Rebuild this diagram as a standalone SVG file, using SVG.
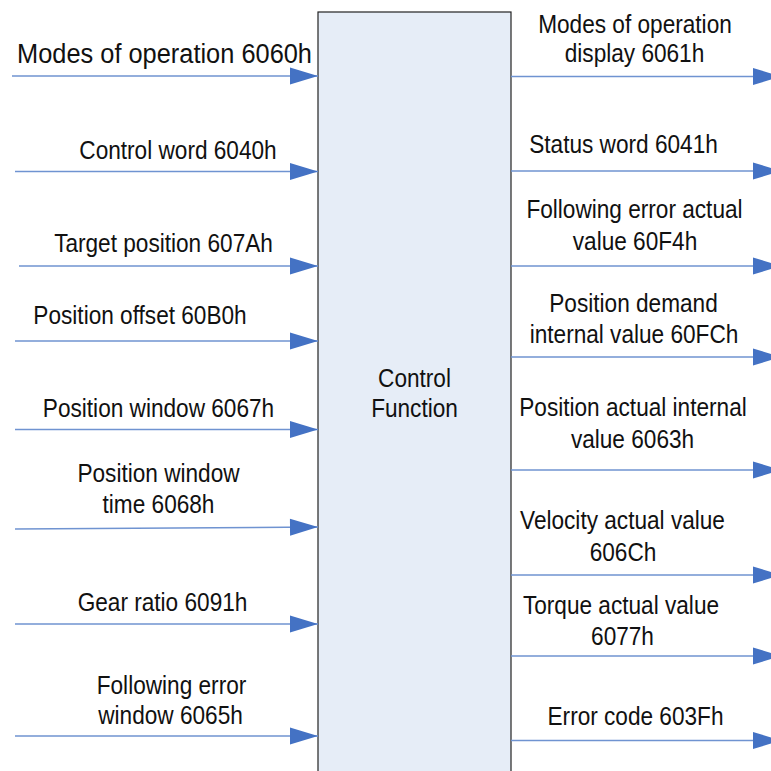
<svg xmlns="http://www.w3.org/2000/svg" width="771" height="771" viewBox="0 0 771 771">
<style>
text{font-family:"Liberation Sans",Arial,sans-serif;font-size:25px;fill:#111;text-anchor:middle}
text.big{font-size:28px}
.c{stroke:#6F93D1;stroke-width:1.5;fill:none;marker-end:url(#ah)}
.box{fill:#E6EDF7;stroke:#222;stroke-width:1.2}
</style>
<defs>
<marker id="ah" markerUnits="userSpaceOnUse" markerWidth="28" markerHeight="18" refX="28" refY="9" orient="auto" overflow="visible">
<path d="M0,0.5 L28,9 L0,17.5 z" fill="#4472C4"/>
</marker>
</defs>
<rect width="771" height="771" fill="#fff"/>
<g id="control-function">
<rect class="box" x="318" y="12" width="193" height="780"/>
<text transform="translate(414.5,387) scale(0.905,1)">Control</text>
<text transform="translate(414.5,417) scale(0.905,1)">Function</text>
</g>
<g id="connectors">
<line class="c" x1="12" y1="76" x2="318" y2="76"/>
<line class="c" x1="15" y1="171.5" x2="318" y2="171.5"/>
<line class="c" x1="19" y1="266" x2="318" y2="266"/>
<line class="c" x1="15" y1="341" x2="318" y2="341"/>
<line class="c" x1="15" y1="429.5" x2="318" y2="429.5"/>
<line class="c" x1="15" y1="529" x2="318" y2="527"/>
<line class="c" x1="15" y1="624" x2="318" y2="624"/>
<line class="c" x1="15" y1="736" x2="318" y2="736"/>
<line class="c" x1="511" y1="76.5" x2="781" y2="76.5"/>
<line class="c" x1="511" y1="171" x2="781" y2="171"/>
<line class="c" x1="511" y1="266" x2="781" y2="266"/>
<line class="c" x1="511" y1="357" x2="781" y2="357"/>
<line class="c" x1="511" y1="470" x2="781" y2="470"/>
<line class="c" x1="511" y1="575" x2="781" y2="575"/>
<line class="c" x1="511" y1="656" x2="781" y2="656"/>
<line class="c" x1="511" y1="740.5" x2="781" y2="740.5"/>
</g>
<g id="in-6060h"><text class="big" transform="translate(164.5,63) scale(0.907,1)">Modes of operation 6060h</text></g>
<g id="in-6040h"><text transform="translate(178,159) scale(0.905,1)">Control word 6040h</text></g>
<g id="in-607Ah"><text transform="translate(163.5,252) scale(0.905,1)">Target position 607Ah</text></g>
<g id="in-60B0h"><text transform="translate(140,324) scale(0.905,1)">Position offset 60B0h</text></g>
<g id="in-6067h"><text transform="translate(158.5,417) scale(0.905,1)">Position window 6067h</text></g>
<g id="in-6068h"><text transform="translate(158.5,482) scale(0.905,1)">Position window</text><text transform="translate(158.5,513) scale(0.905,1)">time 6068h</text></g>
<g id="in-6091h"><text transform="translate(162.5,611) scale(0.905,1)">Gear ratio 6091h</text></g>
<g id="in-6065h"><text transform="translate(171.5,694) scale(0.905,1)">Following error</text><text transform="translate(170.5,724) scale(0.905,1)">window 6065h</text></g>
<g id="out-6061h"><text transform="translate(635,33) scale(0.905,1)">Modes of operation</text><text transform="translate(634.5,62) scale(0.905,1)">display 6061h</text></g>
<g id="out-6041h"><text transform="translate(623.5,153) scale(0.905,1)">Status word 6041h</text></g>
<g id="out-60F4h"><text transform="translate(634.5,218) scale(0.905,1)">Following error actual</text><text transform="translate(635,250) scale(0.905,1)">value 60F4h</text></g>
<g id="out-60FCh"><text transform="translate(633.5,312) scale(0.905,1)">Position demand</text><text transform="translate(634,343) scale(0.905,1)">internal value 60FCh</text></g>
<g id="out-6063h"><text transform="translate(633,416) scale(0.905,1)">Position actual internal</text><text transform="translate(632.5,448) scale(0.905,1)">value 6063h</text></g>
<g id="out-606Ch"><text transform="translate(622.5,529) scale(0.905,1)">Velocity actual value</text><text transform="translate(623,561) scale(0.905,1)">606Ch</text></g>
<g id="out-6077h"><text transform="translate(621,614) scale(0.905,1)">Torque actual value</text><text transform="translate(622.5,645) scale(0.905,1)">6077h</text></g>
<g id="out-603Fh"><text transform="translate(635.5,725) scale(0.905,1)">Error code 603Fh</text></g>
</svg>
